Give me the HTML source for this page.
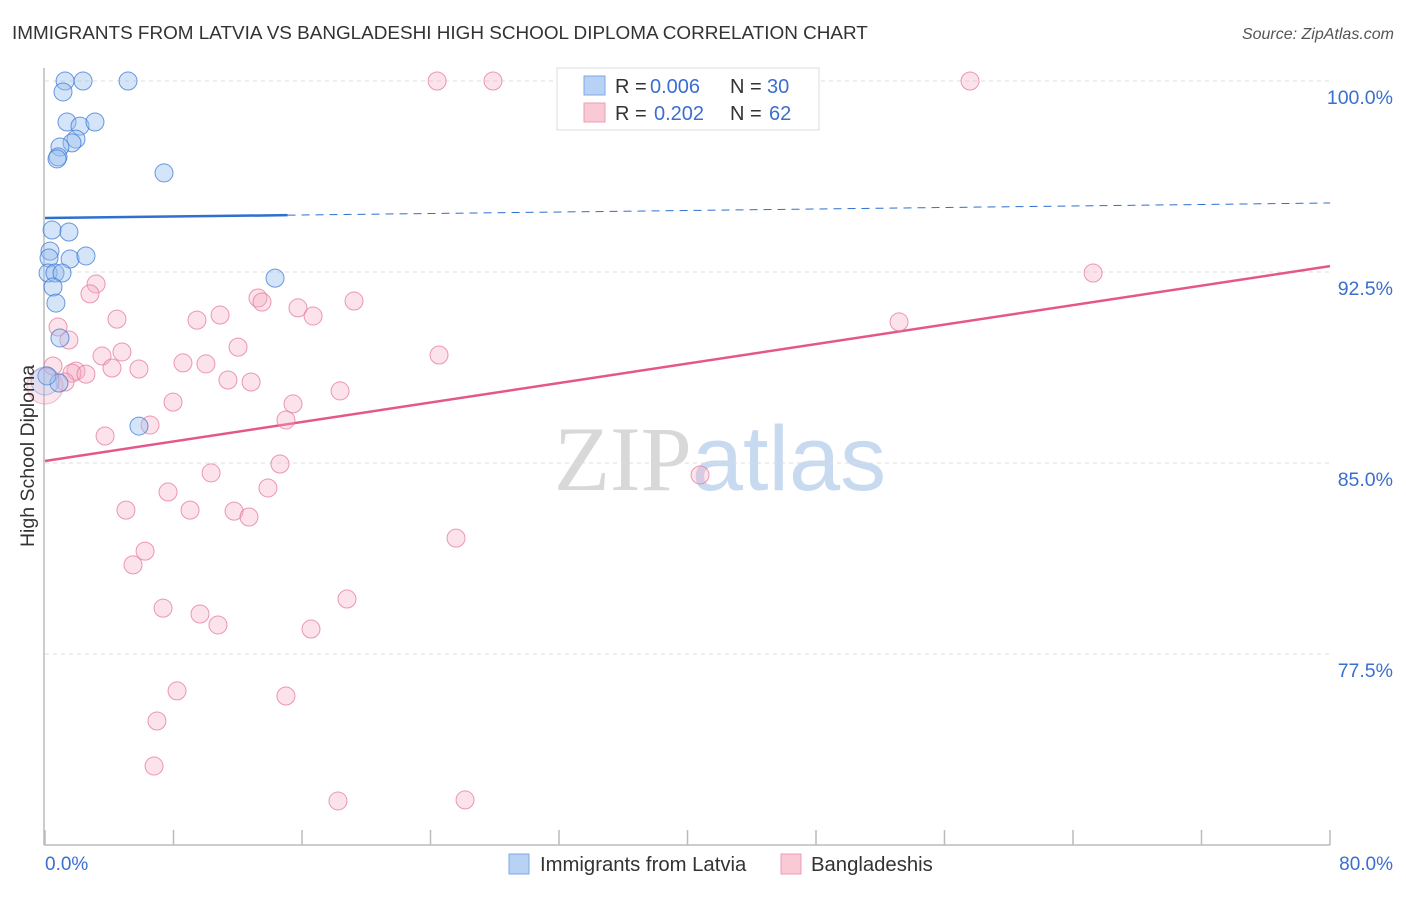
<!DOCTYPE html>
<html><head><meta charset="utf-8"><style>
body{margin:0;background:#fff;font-family:"Liberation Sans",sans-serif;}
svg text{font-family:"Liberation Sans",sans-serif;}
</style></head><body>
<svg id="chart" width="1406" height="892" xmlns="http://www.w3.org/2000/svg">
<text x="12" y="39" font-size="18.9" fill="#333">IMMIGRANTS FROM LATVIA VS BANGLADESHI HIGH SCHOOL DIPLOMA CORRELATION CHART</text>
<text x="1394" y="39" font-size="16" fill="#555" text-anchor="end" font-style="italic">Source: ZipAtlas.com</text>
<text x="720" y="490" font-size="92" text-anchor="middle"><tspan fill="#d8d8d8" font-family="Liberation Serif">ZIP</tspan><tspan fill="#c8daf0">atlas</tspan></text>
<g id="grid"></g>
<g id="axes"></g>
<g id="trends"></g>
<g id="points"></g>
<text transform="translate(34,456) rotate(-90)" font-size="19.5" fill="#333" text-anchor="middle">High School Diploma</text>
<g>
<rect x="557" y="68" width="262" height="62" fill="#fff" stroke="#ddd"/>
<rect x="584" y="76" width="21" height="19" fill="#b8d2f5" stroke="#7ea8e4"/>
<rect x="584" y="103" width="21" height="19" fill="#f9c9d6" stroke="#ee9db4"/>
<text x="615" y="93" font-size="20" fill="#333">R =</text>
<text x="650" y="93" font-size="20" fill="#3a6fd0">0.006</text>
<text x="730" y="93" font-size="20" fill="#333">N =</text>
<text x="767" y="93" font-size="20" fill="#3a6fd0">30</text>
<text x="615" y="120" font-size="20" fill="#333">R =</text>
<text x="654" y="120" font-size="20" fill="#3a6fd0">0.202</text>
<text x="730" y="120" font-size="20" fill="#333">N =</text>
<text x="769" y="120" font-size="20" fill="#3a6fd0">62</text>
</g>
<g>
<rect x="509" y="854" width="20" height="20" fill="#b8d2f5" stroke="#7ea8e4"/>
<text x="540" y="871" font-size="20.3" fill="#333">Immigrants from Latvia</text>
<rect x="781" y="854" width="20" height="20" fill="#f9c9d6" stroke="#ee9db4"/>
<text x="811" y="871" font-size="20.3" fill="#333">Bangladeshis</text>
</g>
</svg>
<script>
const xTicks=[0,8,16,24,32,40,48,56,64,72,80];
const xTickLabels=["0.0%","80.0%"];
const yTicks=[100,92.5,85,77.5];
const yTickLabels=["100.0%","92.5%","85.0%","77.5%"];
const latviaX=[1.25,2.37,5.17,1.12,1.37,2.18,3.11,1.93,1.68,0.93,0.81,0.75,7.41,0.44,1.49,0.31,0.25,1.56,2.55,0.19,0.62,1.06,0.5,0.68,0.93,14.32,0.87,5.85,0.12];
const latviaY=[100,100,100,99.57,98.39,98.23,98.39,97.72,97.57,97.41,97.02,96.94,96.39,94.15,94.07,93.32,93.05,93.01,93.13,92.46,92.46,92.46,91.91,91.28,89.91,92.26,88.14,86.45,88.42];
const banglaX=[24.41,27.89,57.59,65.25,3.18,2.80,13.26,13.51,19.24,15.75,4.48,9.46,10.90,16.69,0.81,1.49,12.02,24.53,3.55,4.79,8.59,10.02,0.5,4.17,5.85,1.93,1.68,2.55,1.25,11.39,12.83,18.37,7.97,15.44,15.0,6.54,3.74,10.34,14.63,40.78,7.66,13.88,5.04,9.03,11.77,12.70,25.59,6.23,5.48,18.80,7.35,9.65,10.77,16.56,8.22,15.0,6.97,6.79,18.24,26.15,53.17];
const banglaY=[100,100,100,92.46,92.03,91.64,91.48,91.32,91.36,91.09,90.65,90.61,90.81,90.77,90.34,89.83,89.55,89.24,89.20,89.36,88.93,88.89,88.81,88.73,88.69,88.61,88.53,88.49,88.18,88.26,88.18,87.83,87.39,87.32,86.69,86.49,86.06,84.61,84.96,84.53,83.86,84.02,83.15,83.15,83.11,82.88,82.05,81.54,81.0,79.66,79.30,79.07,78.64,78.48,76.05,75.85,74.87,73.10,71.73,71.77,90.54];
const bigLatvia=[0,88.22];
const bigBangla=[0,88.02];
const latviaTrend=[94.62,95.21];
const latviaSolidEnd=15.1;
const banglaTrend=[85.08,92.73];

const NS="http://www.w3.org/2000/svg";
const X=v=>45+v/80*1285;
const Y=v=>81+(100-v)/7.5*191;
function mk(tag,attrs,parent){const e=document.createElementNS(NS,tag);for(const k in attrs)e.setAttribute(k,attrs[k]);parent.appendChild(e);return e;}
const grid=document.getElementById('grid'),axes=document.getElementById('axes'),trends=document.getElementById('trends'),pts=document.getElementById('points');
yTicks.forEach((t,i)=>{
  const l=mk('line',{x1:45,x2:1330,y1:Y(t),y2:Y(t),stroke:'#ddd','stroke-dasharray':'4,4'},grid);
  
  
  const tx=mk('text',{x:1393,y:Y(t)+23,'font-size':19.5,fill:'#3a6fd0','text-anchor':'end'},axes);
  tx.textContent=yTickLabels[i];
  
  
});
const ax=mk('line',{x1:44,x2:44,y1:68,y2:845,stroke:'#bbb','stroke-width':1.5},axes);


const bx=mk('line',{x1:44,x2:1330,y1:845,y2:845,stroke:'#bbb','stroke-width':1.5},axes);


xTicks.forEach(t=>{
  const l=mk('line',{x1:X(t),x2:X(t),y1:830,y2:845,stroke:'#bbb','stroke-width':1.5},axes);
  
  
});
[[0,'start',45],[80,'end',1393]].forEach((d,i)=>{
  const t=mk('text',{x:d[2],y:870,'font-size':19,fill:'#3a6fd0','text-anchor':d[1]},axes);
  t.textContent=xTickLabels[i];
  
  
});
function lineAt(tr,x){return tr[0]+(tr[1]-tr[0])*x/80;}
const pl=mk('line',{x1:X(0),y1:Y(banglaTrend[0]),x2:X(80),y2:Y(banglaTrend[1]),stroke:'#e5578a','stroke-width':2.5},trends);


const bl=mk('line',{x1:X(0),y1:Y(latviaTrend[0]),x2:X(latviaSolidEnd),y2:Y(lineAt(latviaTrend,latviaSolidEnd)),stroke:'#2f6fcf','stroke-width':2.5},trends);


const bd=mk('line',{x1:X(latviaSolidEnd),y1:Y(lineAt(latviaTrend,latviaSolidEnd)),x2:X(80),y2:Y(latviaTrend[1]),stroke:'#2f6fcf','stroke-width':1,'stroke-dasharray':'8,6'},trends);


banglaX.forEach((x,i)=>{
  const c=mk('circle',{cx:X(x),cy:Y(banglaY[i]),r:9,fill:'rgba(246,172,196,0.35)',stroke:'rgba(230,120,155,0.75)','stroke-width':1},pts);
  
  
});
const cb=mk('circle',{cx:X(bigBangla[0]),cy:Y(bigBangla[1]),r:18,fill:'rgba(246,172,196,0.3)',stroke:'rgba(230,120,155,0.5)'},pts);


latviaX.forEach((x,i)=>{
  const c=mk('circle',{cx:X(x),cy:Y(latviaY[i]),r:9,fill:'rgba(150,190,240,0.4)',stroke:'rgba(60,120,210,0.75)','stroke-width':1},pts);
  
  
});
const cl=mk('circle',{cx:X(bigLatvia[0]),cy:Y(bigLatvia[1]),r:14,fill:'rgba(150,190,240,0.25)',stroke:'rgba(60,120,210,0.35)'},pts);


</script>
</body></html>
